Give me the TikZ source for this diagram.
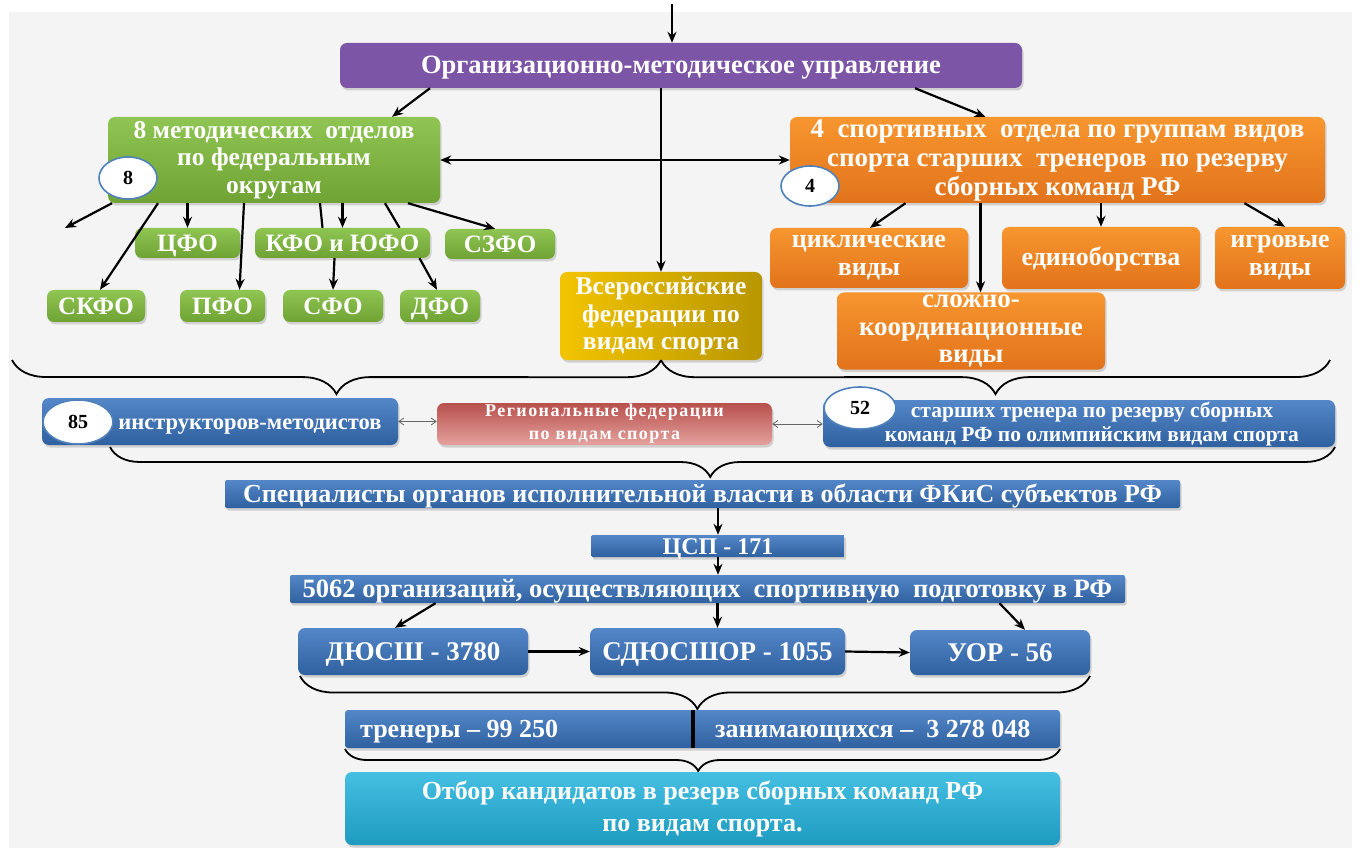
\documentclass[tikz,border=0pt]{standalone}
\usepackage{fontspec}
\setmainfont{Liberation Serif}
\usetikzlibrary{shapes.geometric,arrows.meta,decorations.pathreplacing,shadows}
\definecolor{bgc}{HTML}{F4F4F4}
\definecolor{purp}{HTML}{7D55A6}
\definecolor{grnA}{HTML}{8FC553}
\definecolor{grnB}{HTML}{6FA334}
\definecolor{orgA}{HTML}{F7962F}
\definecolor{orgB}{HTML}{E2731B}
\definecolor{goldA}{HTML}{F2C400}
\definecolor{goldB}{HTML}{B89600}
\definecolor{bluA}{HTML}{5487C8}
\definecolor{bluB}{HTML}{2F609F}
\definecolor{redA}{HTML}{B8504C}
\definecolor{redB}{HTML}{E4A29E}
\definecolor{cyA}{HTML}{45BFE2}
\definecolor{cyB}{HTML}{1E9BC0}
\definecolor{ellb}{HTML}{4F81BD}
\tikzset{
  box/.style={rounded corners=7pt, inner sep=1pt, align=center, text=white,
    font=\bfseries\fontsize{26}{28}\selectfont,
    drop shadow={shadow xshift=1.5pt,shadow yshift=-2.5pt,opacity=.3}},
  pbox/.style={box, fill=purp},
  gbox/.style={box, top color=grnA, bottom color=grnB},
  obox/.style={box, top color=orgA, bottom color=orgB},
  ybox/.style={box, left color=goldA, right color=goldB},
  bbox/.style={box, top color=bluA, bottom color=bluB},
  rbox/.style={box, top color=redA, bottom color=redB},
  cbox/.style={box, top color=cyA, bottom color=cyB},
  txt/.style={align=center, text=white, inner sep=0pt, font=\bfseries\fontsize{26}{28}\selectfont},
  oval/.style={ellipse, draw=ellb, line width=1.6pt, fill=white, inner sep=0pt, font=\bfseries\fontsize{20}{22}\selectfont},
  arr/.style={-{Stealth[length=11pt,width=9pt]}, line width=2.2pt},
  ln/.style={line width=2.2pt},
  tarr/.style={{Straight Barb[length=5pt,width=7pt]}-{Straight Barb[length=5pt,width=7pt]}, line width=0.8pt, draw=black!60},
  brc/.style={decorate, decoration={brace, mirror, amplitude=#1}, line width=1.8pt},
  brc/.default=30pt,
  one/.style={text height=#1, text depth=0pt},
  one/.default=17pt
}
\begin{document}
\begin{tikzpicture}[x=1pt,y=-1pt]
\useasboundingbox (0,0) rectangle (1360,850);
\fill[bgc] (9,12) rectangle (1352,848);

% top level
\node[pbox, one, minimum width=682, minimum height=45, font=\bfseries\fontsize{26.5}{28}\selectfont] (pu) at (681,65.5) {Организационно-методическое управление};
\coordinate (top) at (672,4);
\draw[arr] (top) -- (top |- pu.north);

\node[gbox, minimum width=332, minimum height=86, font=\bfseries\fontsize{25.5}{27.5}\selectfont] (gr) at (274,160) {8 методических \ отделов\\по федеральным\\округам};
\node[obox, minimum width=535, minimum height=86, font=\bfseries\fontsize{27}{29}\selectfont] (or) at (1057.5,160) {4 \ спортивных \ отдела по группам видов\\спорта старших \ тренеров \ по резерву\\сборных команд РФ};
\node[oval, minimum width=58, minimum height=42] (e8) at (128,178) {8};
\node[oval, minimum width=58, minimum height=40] (e4) at (810,186) {4};

% green districts
\node[gbox, one=16.5pt, minimum width=105, minimum height=30, font=\bfseries\fontsize{25}{27}\selectfont] (cfo) at (187.5,243) {ЦФО};
\node[gbox, one=16.5pt, minimum width=175, minimum height=30, font=\bfseries\fontsize{25}{27}\selectfont] (kfo) at (342.5,243) {КФО и ЮФО};
\node[gbox, one=16.5pt, minimum width=110, minimum height=30, font=\bfseries\fontsize{25}{27}\selectfont] (szfo) at (500,244) {СЗФО};
\node[gbox, one=16.5pt, minimum width=98, minimum height=32, font=\bfseries\fontsize{25}{27}\selectfont] (skfo) at (96,306) {СКФО};
\node[gbox, one=16.5pt, minimum width=85, minimum height=32, font=\bfseries\fontsize{25}{27}\selectfont] (pfo) at (222.5,306) {ПФО};
\node[gbox, one=16.5pt, minimum width=100, minimum height=32, font=\bfseries\fontsize{25}{27}\selectfont] (sfo) at (333,306) {СФО};
\node[gbox, one=16.5pt, minimum width=80, minimum height=32, font=\bfseries\fontsize{25}{27}\selectfont] (dfo) at (440,306) {ДФО};

% orange groups
\node[obox, minimum width=198, minimum height=60, font=\bfseries\fontsize{26}{28}\selectfont] (cyc) at (869,258) {циклические\\виды};
\node[obox, one=15pt, minimum width=198, minimum height=62, font=\bfseries\fontsize{26}{28}\selectfont] (edin) at (1101,258) {единоборства};
\node[obox, minimum width=130, minimum height=62, font=\bfseries\fontsize{26}{28}\selectfont] (igr) at (1280,258) {игровые\\виды};
\node[obox, minimum width=268, minimum height=77, font=\bfseries\fontsize{27}{27.5}\selectfont] (slozh) at (971,331) {сложно-\\координационные\\виды};

\node[ybox, minimum width=202, minimum height=88, font=\bfseries\fontsize{25.5}{27.5}\selectfont] (vser) at (661,316) {Всероссийские\\федерации по\\видам спорта};

% connectors top
\draw[arr] ([xshift=-251pt]pu.south) -- ([xshift=118pt]gr.north);
\draw[arr] ([xshift=234pt]pu.south) -- ([xshift=-72pt]or.north);
\draw[arr] ([xshift=-20pt]pu.south) -- (vser.north);
\draw[arr, {Stealth[length=11pt,width=9pt]}-{Stealth[length=11pt,width=9pt]}] (gr.east) -- (or.west);

\coordinate (fl) at (65,228);
\draw[arr] ([xshift=-162pt]gr.south) -- (fl);
\draw[arr] ([xshift=-116pt]gr.south) -- ([xshift=4pt]skfo.north);
\draw[arr] (cfo.north |- gr.south) -- (cfo.north);
\draw[arr] ([xshift=-30pt]gr.south) -- ([xshift=17pt]pfo.north);
\draw[arr] (kfo.north |- gr.south) -- (kfo.north);
\draw[ln] ([xshift=46pt]gr.south) -- ([xshift=-20pt]kfo.north);
\draw[arr] ([xshift=-8pt]kfo.south) -- (sfo.north);
\draw[ln] ([xshift=111pt]gr.south) -- ([xshift=57pt]kfo.north);
\draw[arr] ([xshift=77pt]kfo.south) -- ([xshift=-3pt]dfo.north);
\draw[arr] ([xshift=134pt]gr.south) -- ([xshift=-5pt]szfo.north);

\draw[arr] ([xshift=-152pt]or.south) -- ([xshift=1pt]cyc.north);
\draw[arr] ([xshift=-77pt]or.south) -- ([xshift=9.5pt]slozh.north);
\draw[arr] (edin.north |- or.south) -- (edin.north);
\draw[arr] ([xshift=187pt]or.south) -- ([xshift=5pt]igr.north);

% braces
\coordinate (bl) at (12,360);
\coordinate (br) at (1330,360);
\draw[brc=34pt] (bl) -- (vser.south);
\draw[brc=34pt] (vser.south) -- (br);

% middle row
\node[bbox, minimum width=356, minimum height=47] (b85) at (220,421.5) {};
\node[txt, one=14pt, font=\bfseries\fontsize{22.5}{24}\selectfont] (t85) at (250,422) {инструкторов-методистов};
\node[oval, minimum width=70, minimum height=44] (e85) at (78,422) {85};
\node[rbox, minimum width=335, minimum height=42, font=\bfseries\fontsize{18}{23}\selectfont\addfontfeature{LetterSpace=8}] (reg) at (604.5,424) {Региональные федерации\\по видам спорта};
\node[bbox, minimum width=512, minimum height=47] (b52) at (1079,423.5) {};
\node[txt, font=\bfseries\fontsize{21.5}{24}\selectfont] (t52) at (1092,424) {старших тренера по резерву сборных\\команд РФ по олимпийским видам спорта};
\node[oval, minimum width=72, minimum height=42] (e52) at (860,408) {52};
\draw[tarr] (b85.east) -- (b85.east -| reg.west);
\draw[tarr] (reg.east) -- (reg.east -| b52.west);

\coordinate (cl) at (110,447);
\coordinate (cr) at (1335,447);
\draw[line width=1.8pt, decorate, decoration={brace, mirror, amplitude=30pt, aspect=0.49}] (cl) -- (cr);

% lower part
\node[bbox, one, minimum width=955, minimum height=28, rounded corners=2pt] (spec) at (702.5,494) {Специалисты органов исполнительной власти в области ФКиС субъектов РФ};
\node[bbox, one=16pt, minimum width=253, minimum height=22, rounded corners=1pt, inner sep=0pt, font=\bfseries\fontsize{24}{26}\selectfont] (csp) at (718,546) {ЦСП - 171};
\node[bbox, one, minimum width=835, minimum height=28, rounded corners=2pt, font=\bfseries\fontsize{26.5}{28}\selectfont] (o5062) at (707.5,589) {5062 организаций, осуществляющих \ спортивную \ подготовку в РФ};
\draw[arr] (csp.north |- spec.south) -- (csp.north);
\draw[arr] (csp.south) -- (csp.south |- o5062.north);

\node[bbox, one=18pt, minimum width=230, minimum height=47, font=\bfseries\fontsize{27}{28}\selectfont] (dush) at (413,651.5) {ДЮСШ - 3780};
\node[bbox, one=18pt, minimum width=255, minimum height=47, font=\bfseries\fontsize{27}{28}\selectfont] (sdus) at (717.5,651.5) {СДЮСШОР - 1055};
\node[bbox, one=18pt, minimum width=180, minimum height=45, font=\bfseries\fontsize{27}{28}\selectfont] (uor) at (1000,652.5) {УОР - 56};
\draw[arr] ([xshift=-272pt]o5062.south) -- ([xshift=-18pt]dush.north);
\draw[arr] (sdus.north |- o5062.south) -- (sdus.north);
\draw[arr] ([xshift=292pt]o5062.south) -- ([xshift=25pt]uor.north);
\draw[arr] (dush.east) -- (sdus.west);
\draw[arr] (sdus.east) -- (uor.west);

\coordinate (dl) at (300,676);
\coordinate (dr) at (1090,676);
\draw[line width=1.8pt, decorate, decoration={brace, mirror, amplitude=33pt, aspect=0.503}] (dl) -- (dr);

\node[bbox, minimum width=715, minimum height=38, rounded corners=3pt] (trbar) at (702.5,729) {};
\node[txt, one, anchor=west, font=\bfseries\fontsize{26}{28}\selectfont] (trL) at (360,729) {тренеры -- 99 250};
\node[txt, one, anchor=west, font=\bfseries\fontsize{26}{28}\selectfont] (trR) at (715,729) {занимающихся -- \ 3 278 048};
\draw[line width=3.5pt] ([xshift=-9.5pt]trbar.north) -- ([xshift=-9.5pt]trbar.south);

\coordinate (fl2) at (345,749);
\coordinate (fr2) at (1060,749);
\draw[line width=1.8pt, decorate, decoration={brace, mirror, amplitude=22pt, aspect=0.494}] (fl2) -- (fr2);

\node[cbox, minimum width=715, minimum height=73, font=\bfseries\fontsize{26}{32}\selectfont] (otbor) at (702.5,808.5) {Отбор кандидатов в резерв сборных команд РФ\\по видам спорта.};
\end{tikzpicture}
\end{document}
